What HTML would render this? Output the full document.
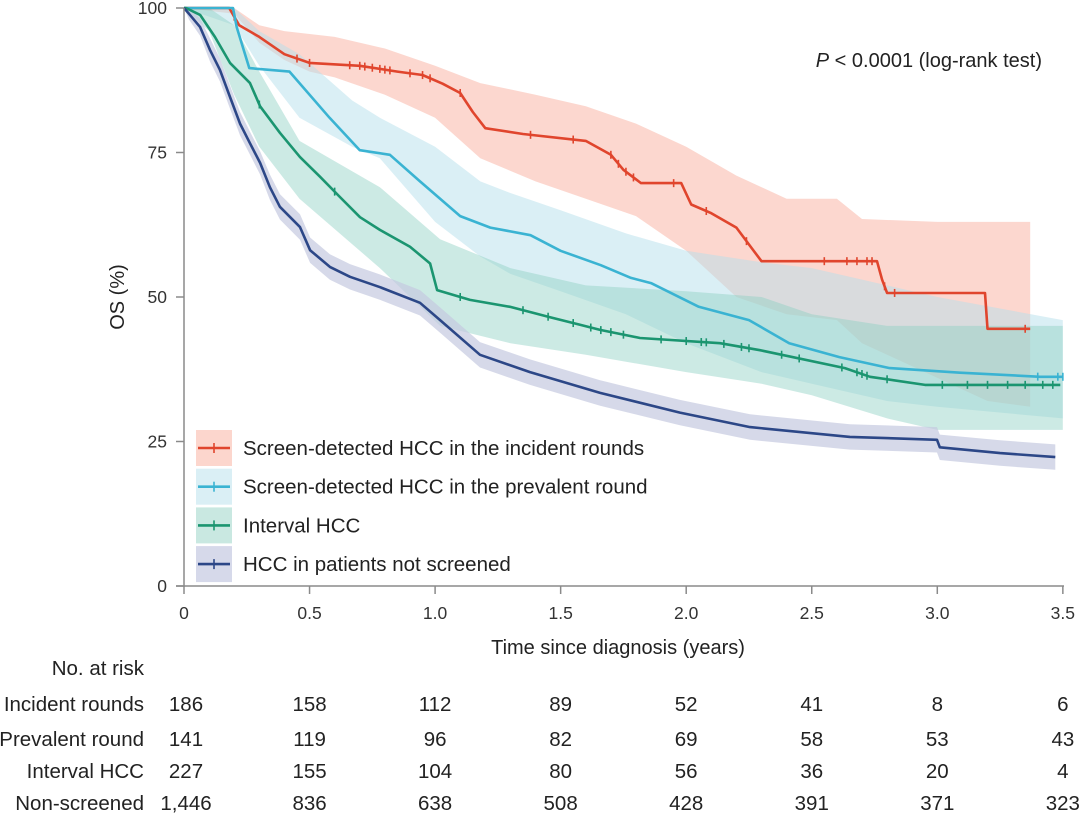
<!DOCTYPE html>
<html><head><meta charset="utf-8"><style>
body{margin:0;background:#fff;}
svg{display:block;font-family:"Liberation Sans",sans-serif;}
</style></head><body>
<svg id="chart" width="1080" height="815" viewBox="0 0 1080 815" xmlns="http://www.w3.org/2000/svg">
<g id="bands"></g><g id="lines"></g><g id="axes"></g><g id="legend"></g><g id="risk"></g>
</svg>
<script>
// ---- data ----
const redT=[0,0.18,0.22,0.3,0.4,0.5,0.7,0.85,0.95,1.03,1.1,1.15,1.2,1.35,1.6,1.7,1.75,1.82,1.98,2.02,2.1,2.2,2.26,2.3,2.76,2.78,2.8,3.19,3.2,3.37];
const redS=[100,100,97,95,92,90.5,90,89,88.4,86.9,85.3,82,79.2,78.2,77,74.6,72,69.7,69.7,66,64.5,62,58.5,56.2,56.2,53,50.7,50.7,44.5,44.5];
const redCiT=[0,0.2,0.3,0.4,0.5,0.6,0.8,1.0,1.18,1.4,1.6,1.8,2.0,2.2,2.4,2.6,2.7,3.0,3.2,3.37];
const redUp=[100,100,97,96,95.5,95,93,90,87,85,83,80,76,71,67,67,63.5,63,63,63];
const redLo=[100,99,94,91,89,88,85,81,74,70,67,64,58,50,47,46,42,36,32,31];
const cyT=[0,0.195,0.21,0.26,0.42,0.58,0.70,0.82,0.94,1.10,1.22,1.38,1.50,1.66,1.78,1.86,2.05,2.25,2.41,2.61,2.81,3.09,3.41,3.5];
const cyS=[100,100,96.7,89.6,89,81,75.4,74.6,70,64,62,60.7,58,55.5,53.3,52.4,48.3,46,42,39.6,37.7,36.9,36.2,36.2];
const cyCiT=[0,0.2,0.3,0.46,0.67,0.78,1.0,1.18,1.3,1.5,1.76,2.0,2.3,2.5,2.8,3.0,3.5];
const cyUp=[100,100,96,92,84,81,76,70,68,65,61,58,56,55,52,50,46];
const cyLo=[100,97,90,81,76,74,63,57,54,51,47,42,37,35,32,31,29];
const grT=[0,0.008,0.064,0.123,0.183,0.263,0.303,0.382,0.462,0.542,0.621,0.701,0.781,0.9,0.98,1.008,1.139,1.298,1.458,1.577,1.657,1.816,2.135,2.294,2.632,2.732,2.951,3.49];
const grS=[100,100,98.8,95,90.5,87,83,78.4,74.2,70.8,67.3,63.8,61.6,58.7,55.8,51.2,49.5,48.3,46.5,45.2,44.3,42.9,42,40.8,37.7,36.2,34.8,34.8];
const grCiT=[0,0.1,0.2,0.3,0.46,0.78,1.02,1.3,1.6,2.0,2.3,2.5,2.8,3.0,3.5];
const grUp=[100,100,97,89,77,69,60,55,52,51,50,47,45,45,45];
const grLo=[100,96,85,76,67,55,45,42,40,37,35,33,29,27,27];
const nvT=[0,0.02,0.064,0.104,0.143,0.183,0.223,0.263,0.303,0.342,0.382,0.462,0.502,0.581,0.661,0.781,0.94,1.02,1.179,1.378,1.657,1.975,2.254,2.652,2.999,3.01,3.25,3.47];
const nvS=[100,99,96.7,92.7,89.3,84.6,80,76.6,73.2,69,65.6,62.1,58.1,55.2,53.5,51.7,49,46,40,37,33.4,30,27.5,25.8,25.3,24,23,22.3];
const nvHalf=[0,1,1.5,2,2,2,2,2,2,2.2,2.2,2.2,2.2,2.2,2.2,2.2,2.2,2.2,2.2,2.2,2.2,2.2,2.2,2.2,2.2,2.2,2.2,2.2];
const redCens=[0.2,0.45,0.5,0.66,0.7,0.72,0.75,0.78,0.8,0.82,0.9,0.95,0.98,1.1,1.38,1.55,1.7,1.73,1.76,1.79,1.95,2.08,2.24,2.55,2.64,2.68,2.72,2.74,2.79,2.83,3.35];
const cyCens=[3.4,3.48,3.5];
const grCens=[0.3,0.6,1.1,1.35,1.45,1.55,1.62,1.66,1.7,1.75,1.9,2.0,2.06,2.08,2.15,2.22,2.25,2.38,2.45,2.62,2.68,2.70,2.72,2.8,3.02,3.12,3.2,3.28,3.35,3.42,3.46];
const xTicks=[0,0.5,1.0,1.5,2.0,2.5,3.0,3.5];
const xTickLabels=["0","0.5","1.0","1.5","2.0","2.5","3.0","3.5"];
const yTicks=[0,25,50,75,100];
const riskGroups=["Incident rounds","Prevalent round","Interval HCC","Non-screened"];
const riskIncident=["186","158","112","89","52","41","8","6"];
const riskPrevalent=["141","119","96","82","69","58","53","43"];
const riskInterval=["227","155","104","80","56","36","20","4"];
const riskNon=["1,446","836","638","508","428","391","371","323"];
const legendLabels=["Screen-detected HCC in the incident rounds","Screen-detected HCC in the prevalent round","Interval HCC","HCC in patients not screened"];

// ---- scales ----
const X=t=>184+t*251.1;
const Y=s=>8+(100-s)*5.78;
const NS="http://www.w3.org/2000/svg";
function mk(tag,attrs,parent){const e=document.createElementNS(NS,tag);for(const k in attrs)e.setAttribute(k,attrs[k]);parent.appendChild(e);return e;}
function linePath(T,S){return T.map((t,i)=>(i?"L":"M")+X(t).toFixed(1)+","+Y(S[i]).toFixed(1)).join("");}
function bandPath(T,U,L){let d=linePath(T,U);for(let i=T.length-1;i>=0;i--)d+="L"+X(T[i]).toFixed(1)+","+Y(L[i]).toFixed(1);return d+"Z";}
function valAt(T,S,t){for(let i=1;i<T.length;i++){if(t<=T[i]){const f=(t-T[i-1])/(T[i]-T[i-1]||1);return S[i-1]+f*(S[i]-S[i-1]);}}return S[S.length-1];}
const bands=document.getElementById('bands'),lines=document.getElementById('lines');
const nvUp=nvS.map((s,i)=>s+nvHalf[i]),nvLo=nvS.map((s,i)=>s-nvHalf[i]);
let b;
b=mk('path',{d:bandPath(redCiT,redUp,redLo),fill:'#f9b7a8','fill-opacity':0.55},bands);


b=mk('path',{d:bandPath(cyCiT,cyUp,cyLo),fill:'#b5dfec','fill-opacity':0.5},bands);


b=mk('path',{d:bandPath(grCiT,grUp,grLo),fill:'#8fd0c3','fill-opacity':0.45},bands);


b=mk('path',{d:bandPath(nvT,nvUp,nvLo),fill:'#c4c9e0','fill-opacity':0.7},bands);


const series=[[redT,redS,'#e0452d',redCens,'incident'],[cyT,cyS,'#3ab3d2',cyCens,'prevalent'],[grT,grS,'#1b9570',grCens,'interval'],[nvT,nvS,'#2c4787',[],'nonscreened']];
series.forEach(s=>{
 const p=mk('path',{d:linePath(s[0],s[1]),fill:'none',stroke:s[2],'stroke-width':2.6,'stroke-linejoin':'round'},lines);
 
 
 s[3].forEach(t=>{const y=Y(valAt(s[0],s[1],t));
  const c=mk('line',{x1:X(t),x2:X(t),y1:y-4,y2:y+4,stroke:s[2],'stroke-width':1.6},lines);
  
  });
});
// axes
const ax=document.getElementById('axes');
let a=mk('line',{x1:184,x2:184,y1:8,y2:587,stroke:'#8a8a8a','stroke-width':1.5},ax);

a=mk('line',{x1:176,x2:1064,y1:586,y2:586,stroke:'#8a8a8a','stroke-width':1.5},ax);

yTicks.forEach(v=>{mk('line',{x1:176,x2:184,y1:Y(v),y2:Y(v),stroke:'#8a8a8a','stroke-width':1.5},ax);
 const t=mk('text',{x:167,y:Y(v)+6,'text-anchor':'end','font-size':17.5,fill:'#333'},ax);t.textContent=v;
 });
xTicks.forEach((v,i)=>{mk('line',{x1:X(v),x2:X(v),y1:586,y2:594,stroke:'#8a8a8a','stroke-width':1.5},ax);
 const t=mk('text',{x:X(v),y:619,'text-anchor':'middle','font-size':17.5,fill:'#333'},ax);t.textContent=xTickLabels[i];
 });
let t=mk('text',{x:618,y:654,'text-anchor':'middle','font-size':20,fill:'#222'},ax);t.textContent='Time since diagnosis (years)';

t=mk('text',{x:0,y:0,'text-anchor':'middle','font-size':20,fill:'#222',transform:'translate(124,297) rotate(-90)'},ax);t.textContent='OS (%)';

t=mk('text',{x:1042,y:67,'text-anchor':'end','font-size':20,fill:'#222'},ax);
t.innerHTML='<tspan font-style="italic">P</tspan> &lt; 0.0001 (log-rank test)';

// legend
const lg=document.getElementById('legend');
const lgFill=['#fcd6cd','#daeff5','#c9e8e1','#d6d9ea'];
legendLabels.forEach((l,i)=>{const y0=430+i*38.7;
 const g=mk('g',{},lg);
 mk('rect',{x:196,y:y0,width:36,height:36,fill:lgFill[i]},g);
 mk('line',{x1:198,x2:230,y1:y0+18,y2:y0+18,stroke:series[i][2],'stroke-width':2.6},g);
 mk('line',{x1:214,x2:214,y1:y0+13,y2:y0+23,stroke:series[i][2],'stroke-width':1.6},g);
 const tx=mk('text',{x:243,y:y0+25,'font-size':20.5,fill:'#222'},g);tx.textContent=l;});
// risk table
const rk=document.getElementById('risk');
t=mk('text',{x:144,y:675,'text-anchor':'end','font-size':20.5,fill:'#222'},rk);t.textContent='No. at risk';

const rows=[riskIncident,riskPrevalent,riskInterval,riskNon],rowY=[711,746,778,810];
rows.forEach((r,i)=>{
 const l=mk('text',{x:144,y:rowY[i],'text-anchor':'end','font-size':20.5,fill:'#222'},rk);l.textContent=riskGroups[i];
 
 r.forEach((v,j)=>{const c=mk('text',{x:X(xTicks[j])+(j==0?2:0),y:rowY[i],'text-anchor':'middle','font-size':20.5,fill:'#222'},rk);c.textContent=v;
  });
});
</script>
</body></html>
